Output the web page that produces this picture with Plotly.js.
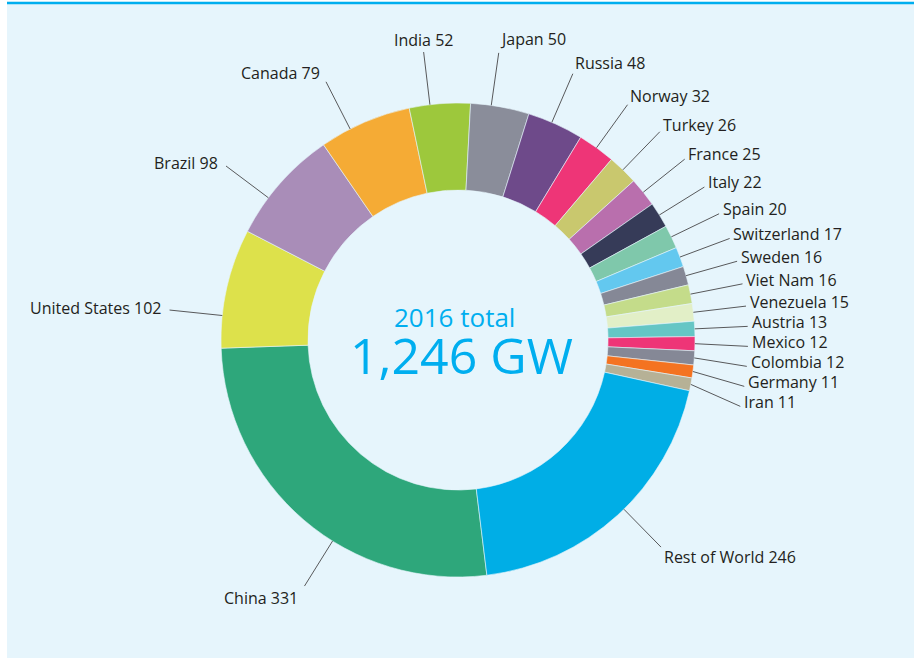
<!DOCTYPE html>
<html><head><meta charset="utf-8">
<script src="https://cdn.plot.ly/plotly-3.0.1.min.js"></script>
<style>html,body{margin:0;padding:0;background:#fff;}#chart{width:914px;height:658px;}</style>
</head><body><div id="chart"></div>
<script>
// ---- data ----
const countries = ['China','United States','Brazil','Canada','India','Japan','Russia','Norway','Turkey','France','Italy','Spain','Switzerland','Sweden','Viet Nam','Venezuela','Austria','Mexico','Colombia','Germany','Iran','Rest of World'];
const capacityGW = [331,102,98,79,52,50,48,32,26,25,22,20,17,16,16,15,13,12,12,11,11,246];
const sliceColors = ['#2ea77b','#dde14b','#a98db8','#f5ab35','#9dc83c','#8a8d9a','#6e4a8a','#ee3577','#c9c86e','#b96fad','#363b58','#7fc8ab','#63c8ef','#858896','#c4dc8a','#e2efc7','#65c6c5','#ee3577','#858896','#f47321','#b6b196','#00aee6'];
const centerTitle = '2016 total';
const centerValue = '1,246 GW';

// ---- layout ----
const W = 914, H = 658;
const CX = 458, CY = 340, R = 237, HOLE = 0.633, ROT = 173;
const LABEL_R = 290, MIN_GAP = 20;
// where along each slice (fraction of its arc) the leader line attaches
const leaderFrac = [0.41,0.27,0.34,0.33,0.34,0.35,0.43,0.5,0.5,0.5,0.5,0.5,0.5,0.5,0.5,0.5,0.5,0.5,0.5,0.5,0.5,0.47];
const BG = '#e6f5fc', CYAN = '#00aeef', TXT = '#231f20', LINE = '#58595b';
const FONT = 'Open Sans, Lato, sans-serif';

const px = x => x / W, py = y => 1 - y / H;
const total = capacityGW.reduce((a, b) => a + b, 0);

let cum = 0;
const items = capacityGW.map((v, i) => {
  const ang = ROT + (cum + v * leaderFrac[i]) / total * 360;
  cum += v;
  const t = ang * Math.PI / 180;
  const s = Math.sin(t), c = Math.cos(t);
  return {i, s, c, x0: CX + R * s, y0: CY - R * c, x1: CX + LABEL_R * s, y1: CY - LABEL_R * c};
});

// spread right-hand labels vertically
const right = items.filter(d => d.s > 0.1 && d.c > -0.5).sort((a, b) => a.y1 - b.y1);
for (let k = 1; k < right.length; k++) {
  if (right[k].y1 < right[k - 1].y1 + MIN_GAP) {
    right[k].y1 = right[k - 1].y1 + MIN_GAP;
    const dy = right[k].y1 - CY;
    right[k].x1 = CX + Math.sqrt(Math.max(LABEL_R * LABEL_R - dy * dy, 0));
  }
}

const shapes = [
  {type: 'rect', xref: 'paper', yref: 'paper', x0: 0, x1: px(7), y0: 0, y1: 1, fillcolor: '#ffffff', line: {width: 0}, layer: 'below'},
  {type: 'rect', xref: 'paper', yref: 'paper', x0: 0, x1: 1, y0: py(1.8), y1: 1, fillcolor: '#ffffff', line: {width: 0}, layer: 'below'},
  {type: 'rect', xref: 'paper', yref: 'paper', x0: px(7), x1: 1, y0: py(4.2), y1: py(1.8), fillcolor: CYAN, line: {width: 0}, layer: 'below'}
];
const annotations = [];

items.forEach(d => {
  shapes.push({type: 'line', xref: 'paper', yref: 'paper', x0: px(d.x0), y0: py(d.y0), x1: px(d.x1), y1: py(d.y1), line: {color: LINE, width: 1}});
  let xa, tx, dy;
  const cpos = Math.max(d.c, 0);
  if (d.c > -0.3) dy = -((d.s < 0 ? 2 : 4) + 10 * Math.pow(cpos, 4));
  else dy = 6 + 8 * d.c * d.c;
  if (d.s > -0.15 && d.s < 0.05) { xa = 'center'; tx = d.x1; }
  else if (d.s > 0) { xa = 'left'; tx = d.x1 + 3 * d.s - 1; }
  else { xa = 'right'; tx = d.x1 - 2 - 6 * Math.abs(d.s) + 1; }
  annotations.push({xref: 'paper', yref: 'paper', x: px(tx), y: py(d.y1 + dy), xanchor: xa, yanchor: 'middle',
    text: countries[d.i] + ' ' + capacityGW[d.i], showarrow: false, font: {family: FONT, size: 16, color: TXT}});
});

annotations.push({xref: 'paper', yref: 'paper', x: px(CX - 4), y: py(317), xanchor: 'center', yanchor: 'middle', text: centerTitle, showarrow: false, font: {family: FONT, size: 26, color: CYAN}});
annotations.push({xref: 'paper', yref: 'paper', x: px(CX + 3), y: py(355), xanchor: 'center', yanchor: 'middle', text: centerValue, showarrow: false, font: {family: FONT, size: 50, color: CYAN}});

const trace = {
  type: 'pie', labels: countries, values: capacityGW, sort: false, direction: 'clockwise', rotation: ROT,
  hole: HOLE, textinfo: 'none', textposition: 'none', hoverinfo: 'none', showlegend: false,
  marker: {colors: sliceColors, line: {color: BG, width: 0.6}},
  domain: {x: [px(CX - R), px(CX + R)], y: [py(CY + R), py(CY - R)]}
};

Plotly.newPlot('chart', [trace], {
  width: W, height: H, margin: {l: 0, r: 0, t: 0, b: 0},
  paper_bgcolor: BG, plot_bgcolor: BG, showlegend: false,
  shapes, annotations
}, {displayModeBar: false, staticPlot: true});
</script></body></html>
